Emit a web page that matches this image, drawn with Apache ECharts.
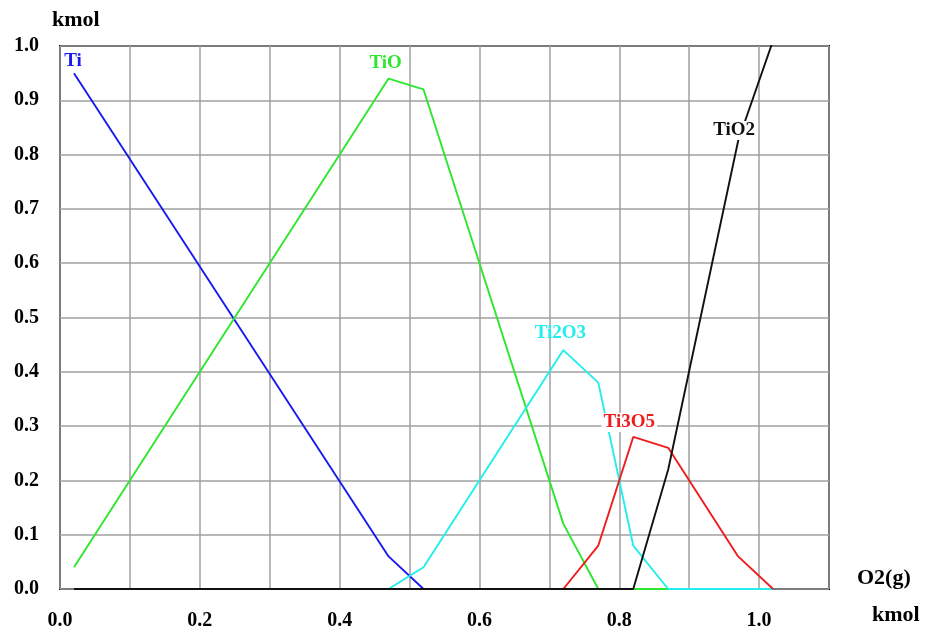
<!DOCTYPE html>
<html>
<head>
<meta charset="utf-8">
<script src="https://cdn.jsdelivr.net/npm/echarts@6/dist/echarts.min.js"></script>
<style>html,body{margin:0;padding:0;background:#fff;}#c{width:936px;height:628px;}</style>
</head>
<body>
<div id="c"></div>
<script>
// Data
const xTi = [0.02, 0.47, 0.52, 1.02];
const yTi = [0.95, 0.06, 0.0, 0.0];
const xTiO = [0.02, 0.47, 0.52, 0.72, 0.77, 1.02];
const yTiO = [0.04, 0.94, 0.92, 0.12, 0.0, 0.0];
const xTi2O3 = [0.02, 0.47, 0.52, 0.72, 0.77, 0.82, 0.87, 1.02];
const yTi2O3 = [0.0, 0.0, 0.04, 0.44, 0.38, 0.08, 0.0, 0.0];
const xTi3O5 = [0.02, 0.72, 0.77, 0.82, 0.87, 0.97, 1.02];
const yTi3O5 = [0.0, 0.0, 0.08, 0.28, 0.26, 0.06, 0.0];
const xTiO2 = [0.02, 0.82, 0.87, 0.97, 1.02];
const yTiO2 = [0.0, 0.0, 0.22, 0.825, 1.01];
const seriesNames = ['Ti', 'TiO', 'Ti2O3', 'Ti3O5', 'TiO2'];
const xTickLabels = ['0.0', '0.2', '0.4', '0.6', '0.8', '1.0'];
const yTickLabels = ['0.0','0.1','0.2','0.3','0.4','0.5','0.6','0.7','0.8','0.9','1.0'];

const FONT = '"Liberation Serif", "Times New Roman", serif';
const colors = ['#1a1aee', '#2ee62e', '#22eeee', '#ee1c1c', '#111111'];
const xs = [xTi, xTiO, xTi2O3, xTi3O5, xTiO2];
const ys = [yTi, yTiO, yTi2O3, yTi3O5, yTiO2];
const labelIdx = [0, 1, 3, 3, 3];
const labelDist = [3, 6, 7, 5, 1];
const labelOff = [-1, -3, -3, -4, -4];
const labelBg = [null, null, null, '#fff', '#fff'];

const series = seriesNames.map((name, s) => ({
  name: name,
  type: 'line',
  symbol: 'circle',
  symbolSize: 0.01,
  showSymbol: true,
  animation: false,
  lineStyle: { color: colors[s], width: 1.9 },
  itemStyle: { color: colors[s] },
  label: { show: false },
  data: xs[s].map((x, i) => {
    const d = { value: [x, ys[s][i]] };
    if (i === labelIdx[s]) {
      d.label = {
        show: true, position: 'top', formatter: name,
        distance: labelDist[s], offset: [labelOff[s], 0],
        color: colors[s], fontFamily: FONT, fontWeight: 'bold', fontSize: 19,
        backgroundColor: labelBg[s] || 'transparent', padding: [0, 2, 0, 2]
      };
    }
    return d;
  })
}));

const chart = echarts.init(document.getElementById('c'));
chart.setOption({
  backgroundColor: '#fff',
  animation: false,
  grid: { left: 60, right: 107, top: 46, bottom: 39, show: true, borderColor: '#111', borderWidth: 2, backgroundColor: 'transparent', containLabel: false, outerBoundsMode: 'none' },
  xAxis: {
    type: 'value', min: 0, max: 1.1, interval: 0.1,
    axisLine: { show: false }, axisTick: { show: false },
    splitLine: { show: true, lineStyle: { color: '#a0a0a0', width: 1.5 } },
    axisLabel: {
      interval: 0, margin: 22, color: '#000', fontFamily: FONT, fontWeight: 'bold', fontSize: 20,
      formatter: function (v) { const t = v.toFixed(1); return xTickLabels.indexOf(t) >= 0 ? t : ''; }
    }
  },
  yAxis: {
    type: 'value', min: 0, max: 1, interval: 0.1,
    axisLine: { show: false }, axisTick: { show: false },
    splitLine: { show: true, lineStyle: { color: '#a0a0a0', width: 1.5 } },
    axisLabel: {
      margin: 21, color: '#000', fontFamily: FONT, fontWeight: 'bold', fontSize: 20,
      formatter: function (v) { const t = v.toFixed(1); return yTickLabels.indexOf(t) >= 0 ? t : ''; }
    }
  },
  graphic: [
    { type: 'text', left: 52, top: 9, style: { text: 'kmol', fill: '#000', font: 'bold 22px ' + FONT } },
    { type: 'text', left: 857, top: 567, style: { text: 'O2(g)', fill: '#000', font: 'bold 22px ' + FONT } },
    { type: 'text', left: 872, top: 604, style: { text: 'kmol', fill: '#000', font: 'bold 22px ' + FONT } }
  ],
  series: series
});
</script>
</body>
</html>
